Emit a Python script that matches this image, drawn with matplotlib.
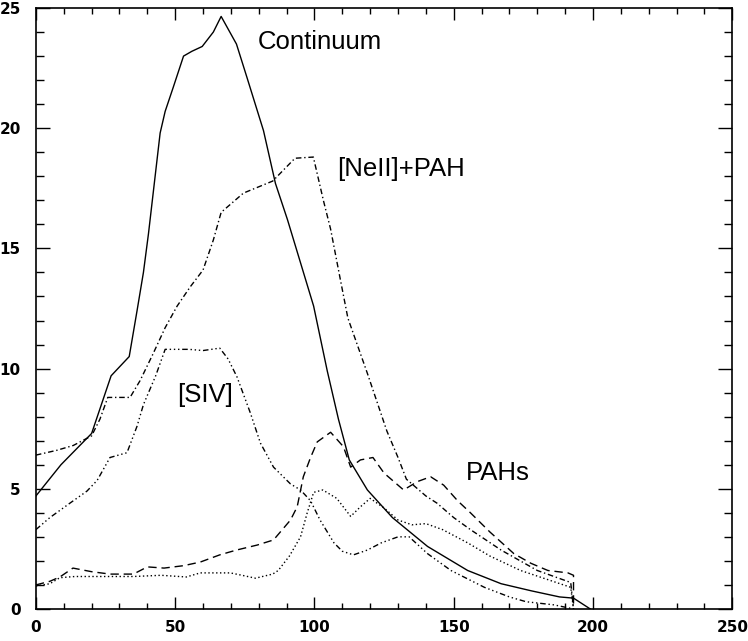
import matplotlib
matplotlib.use("Agg")
import matplotlib.pyplot as plt
from matplotlib.ticker import MultipleLocator

# continuum (solid)
cont_x = [0, 9, 20, 27, 33.5, 36.3, 38.6, 40.4, 42, 44.6, 46.4, 49.3, 53, 56, 59.7,
          63.7, 66.5, 72, 75.8, 81.7, 86, 90.3, 95, 99.7, 104.6, 108.6, 112.5, 119,
          128, 140.6, 155, 167, 178, 188, 193, 199]
cont_y = [4.7, 6.0, 7.3, 9.7, 10.5, 12.4, 14.0, 15.6, 17.2, 19.8, 20.7, 21.7, 23.0,
          23.2, 23.4, 24.0, 24.65, 23.5, 22.1, 19.9, 17.7, 16.2, 14.4, 12.6, 9.9, 7.9,
          6.2, 4.95, 3.8, 2.6, 1.6, 1.05, 0.75, 0.5, 0.45, 0.0]

# [NeII]+PAH (dash-dot)
neii_x = [0, 7.5, 13.4, 20, 23, 25.8, 33.8, 37.4, 42, 46.4, 50.7, 55.4, 60, 63.7,
          66.5, 74.5, 85, 93, 99.6, 103.2, 105.8, 109.3, 112, 119, 126, 130, 133,
          140, 144, 150, 156, 167, 180, 192, 193]
neii_y = [6.4, 6.6, 6.8, 7.2, 7.9, 8.8, 8.8, 9.5, 10.6, 11.7, 12.6, 13.4, 14.1, 15.35,
          16.5, 17.3, 17.8, 18.75, 18.8, 17.0, 15.8, 13.7, 12.1, 9.8, 7.4, 6.3, 5.4,
          4.7, 4.4, 3.8, 3.3, 2.45, 1.6, 1.1, 0.0]

# [SIV] (dash-dot-dot)
siv_x = [0, 5, 12.2, 18.3, 22, 26.6, 32.7, 36.3, 38.6, 43, 46.4, 55, 60, 66, 69, 72.2,
         77, 80.6, 85.3, 91.4, 95, 98.6, 102, 107, 110, 114, 119, 124, 130, 134,
         140.6, 149, 161, 170, 176, 186, 193]
siv_y = [3.3, 3.8, 4.4, 4.9, 5.35, 6.3, 6.5, 7.6, 8.5, 9.7, 10.8, 10.8, 10.75, 10.85,
         10.4, 9.65, 8.15, 6.9, 5.9, 5.2, 4.95, 4.5, 3.7, 2.75, 2.4, 2.25, 2.45, 2.75,
         3.0, 3.0, 2.3, 1.6, 0.9, 0.5, 0.3, 0.17, 0.0]

# PAHs (long dashes)
pah_x = [0, 5, 8.6, 13.3, 20, 26.6, 35, 40, 46, 53, 59, 66, 72, 79.5, 85.3, 91.4,
         93.8, 96, 98.6, 101, 105.8, 110.4, 113, 116.5, 121, 125, 132, 137, 141.7,
         146.4, 151.4, 156, 163, 171.6, 177.7, 183.8, 191, 193, 193]
pah_y = [1.0, 1.15, 1.33, 1.7, 1.55, 1.45, 1.45, 1.75, 1.7, 1.8, 1.95, 2.25, 2.45,
         2.66, 2.87, 3.7, 4.25, 5.5, 6.3, 6.95, 7.35, 6.75, 5.9, 6.2, 6.3, 5.65, 4.95,
         5.3, 5.5, 5.15, 4.5, 4.0, 3.2, 2.3, 1.9, 1.6, 1.5, 1.4, 0.0]

# unlabelled (dotted)
dot_x = [0, 5, 8.6, 14, 25, 35, 45, 54, 59, 64, 69.8, 74, 78.8, 85, 87, 91, 95, 97.4,
         99.7, 103, 108, 113, 116.5, 120, 125, 130, 135, 140, 146, 155, 163, 174,
         183, 192, 193]
dot_y = [0.95, 1.05, 1.3, 1.35, 1.35, 1.35, 1.4, 1.33, 1.5, 1.5, 1.5, 1.4, 1.28, 1.45,
         1.6, 2.2, 3.0, 4.0, 4.85, 4.95, 4.6, 3.85, 4.25, 4.6, 4.2, 3.7, 3.5, 3.55,
         3.3, 2.75, 2.2, 1.6, 1.25, 0.9, 0.0]

labels = ["Continuum", "[NeII]+PAH", "[SIV]", "PAHs"]
label_pos = [(79.5, 23.6), (108.3, 18.3), (50.7, 8.9), (154.3, 5.66)]

fig = plt.figure(figsize=(7.48, 6.41), dpi=100)
ax = fig.add_axes([0.048, 0.05, 0.931, 0.9375])

lw = 1.0
ax.plot(cont_x, cont_y, color="black", lw=lw)
ax.plot(neii_x, neii_y, color="black", lw=lw, dashes=(4, 2, 1, 2))
ax.plot(siv_x, siv_y, color="black", lw=lw, dashes=(4, 2, 1, 2, 1, 2, 1, 2))
ax.plot(pah_x, pah_y, color="black", lw=lw, dashes=(6, 3.5))
ax.plot(dot_x, dot_y, color="black", lw=lw, dashes=(1, 1.8))

for txt, (lx, ly) in zip(labels, label_pos):
    ax.text(lx, ly, txt, fontsize=18.5, family="Liberation Sans",
            ha="left", va="center")

ax.set_xlim(0, 250)
ax.set_ylim(0, 25)
ax.xaxis.set_major_locator(MultipleLocator(50))
ax.xaxis.set_minor_locator(MultipleLocator(10))
ax.yaxis.set_major_locator(MultipleLocator(5))
ax.yaxis.set_minor_locator(MultipleLocator(1))

ax.tick_params(axis="both", which="both", direction="in", top=True, right=True,
               labelsize=11, width=1.0)
ax.tick_params(axis="x", which="major", length=8.6, pad=8)
ax.tick_params(axis="x", which="minor", length=4.3)
ax.tick_params(axis="y", which="major", length=10, pad=11)
ax.tick_params(axis="y", which="minor", length=5.5)
for lab in ax.get_xticklabels() + ax.get_yticklabels():
    lab.set_fontweight("bold")
ylabs = ax.get_yticklabels()
ylabs[0].set_va("bottom")
ylabs[-1].set_va("top")

for sp in ax.spines.values():
    sp.set_linewidth(1.2)

fig.savefig("out.png", dpi=100)
